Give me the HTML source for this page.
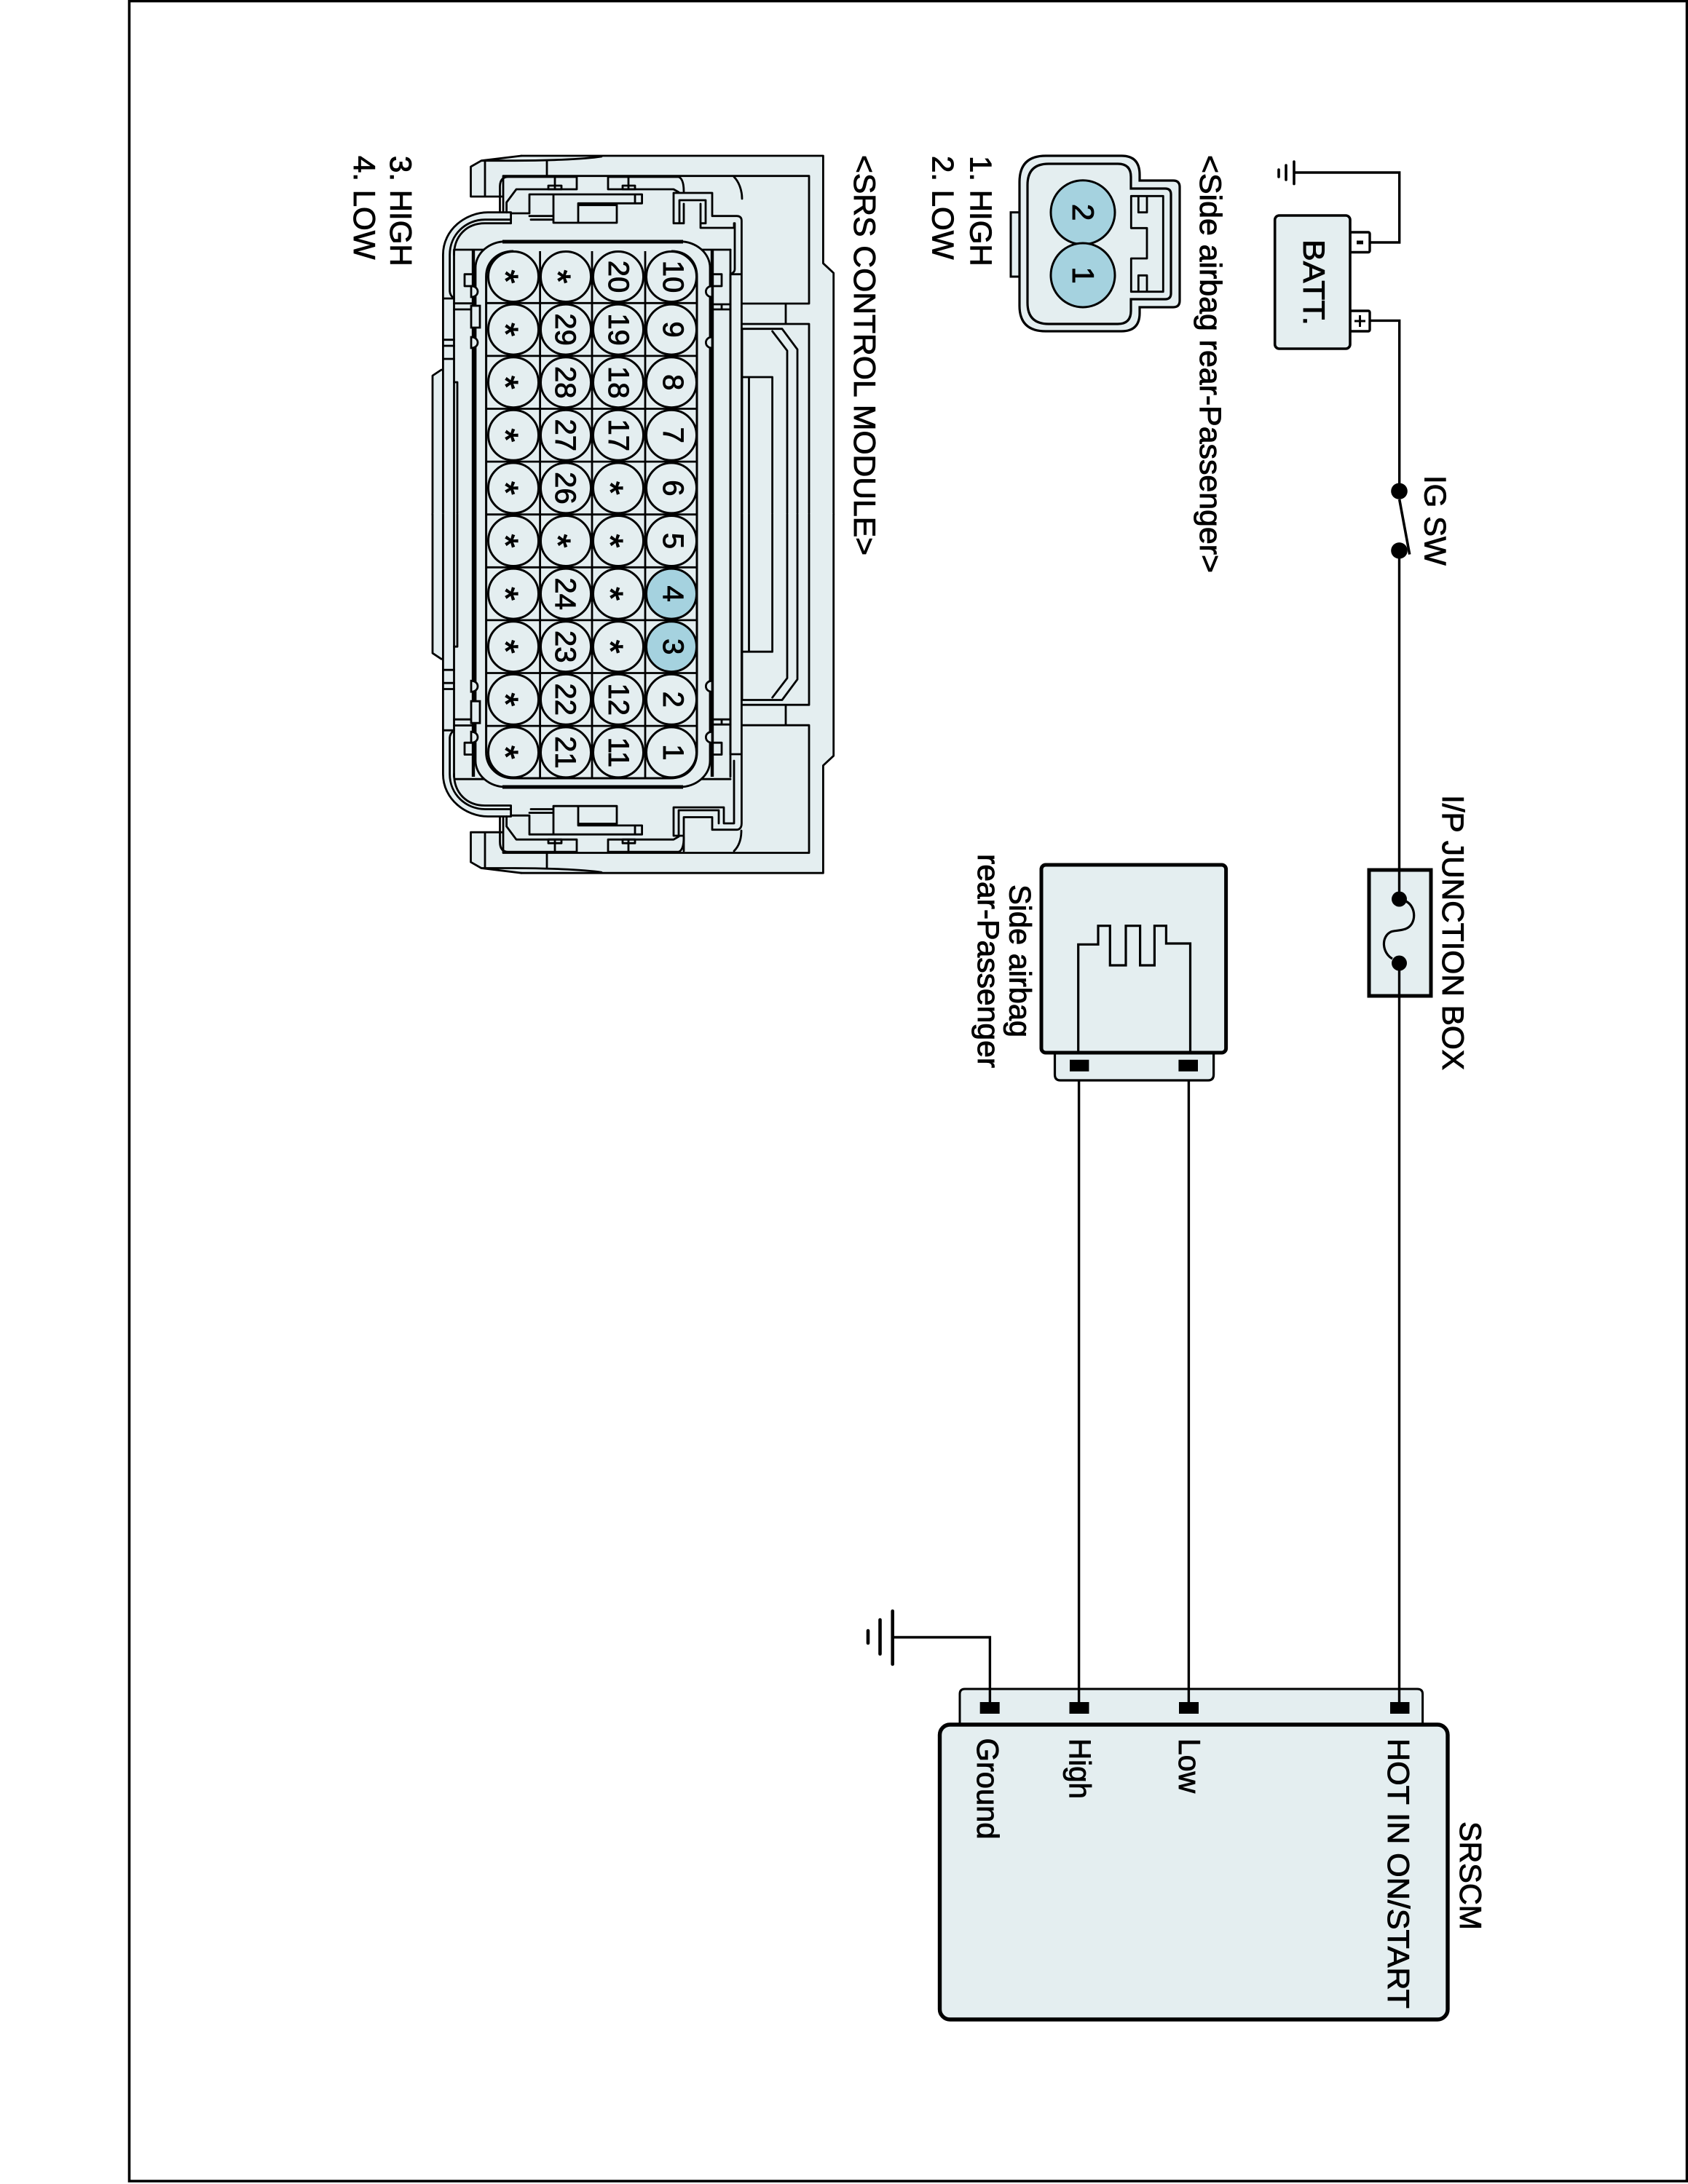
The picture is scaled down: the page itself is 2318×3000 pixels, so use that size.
<!DOCTYPE html>
<html><head><meta charset="utf-8"><title>SRS wiring diagram</title>
<style>
html,body{margin:0;padding:0;background:#fff}
svg{display:block}
text{font-family:"Liberation Sans",Arial,sans-serif;fill:#000;font-size:42px;stroke:#000;stroke-width:.9}
.l{fill:none;stroke:#000;stroke-width:2.8;stroke-linejoin:round;stroke-linecap:round}
.w{fill:none;stroke:#000;stroke-width:3.4}
.t{fill:none;stroke:#000;stroke-width:4.2}
.b{fill:#e4eef0;stroke:#000}
.p{fill:#e4eef0;stroke:#000;stroke-width:3}
.h{fill:#a5d2df;stroke:#000;stroke-width:3}
.n{font-size:40px;text-anchor:middle}
.s{font-size:48px;text-anchor:middle;stroke:#000;stroke-width:1.2}
</style></head><body>
<svg xmlns="http://www.w3.org/2000/svg" width="2318" height="3000" viewBox="0 0 2318 3000">
<rect width="2318" height="3000" fill="#fff"/>
<path d="M177.5 1.5H2316.5V2996H177.5Z" fill="none" stroke="#000" stroke-width="3.6"/>

<!-- battery -->
<path class="w" d="M1881 333H1921.7V237H1778"/>
<path d="M1777 222V252.6M1766 227V247M1756 233V243" fill="none" stroke="#000" stroke-width="3.6" stroke-linecap="round"/>
<rect x="1854" y="319" width="27" height="27.5" rx="2" fill="#fff" stroke="#000" stroke-width="3.4"/>
<rect x="1854" y="427" width="27" height="28" rx="2" fill="#fff" stroke="#000" stroke-width="3.4"/>
<path d="M1863 333H1872" stroke="#000" stroke-width="5" fill="none"/>
<path d="M1860 441H1875M1867.5 433V449" stroke="#000" stroke-width="3" fill="none"/>
<rect class="b" x="1750.7" y="296" width="103.3" height="183" rx="6" stroke-width="3.6"/>
<text transform="translate(1790,329) rotate(90)" textLength="118" lengthAdjust="spacingAndGlyphs">BATT.</text>

<!-- main wire and ig switch -->
<path class="w" d="M1881 440.4H1921.7V666"/>
<ellipse cx="1921.5" cy="674.7" rx="11.3" ry="11.2"/>
<ellipse cx="1921.5" cy="756.3" rx="11.3" ry="11.2"/>
<path d="M1921.7 686L1935.7 761.6" stroke="#000" stroke-width="3.6" fill="none"/>
<text transform="translate(1956.7,653) rotate(90)">IG SW</text>
<path class="w" d="M1921.5 757V1195M1921.5 1368V2340"/>

<!-- fuse box -->
<rect class="b" x="1880" y="1195" width="85" height="173" stroke-width="5"/>
<path class="w" d="M1921.5 1195V1235M1921.5 1323V1368"/>
<ellipse cx="1921.5" cy="1235" rx="10.5" ry="10.5"/>
<ellipse cx="1921.5" cy="1323" rx="10.5" ry="10.5"/>
<path d="M1930.6 1238C1945 1245 1946 1270 1930 1276C1921 1279 1915 1278 1910 1280C1896 1287 1898 1309 1912 1317" fill="none" stroke="#000" stroke-width="3.2"/>
<text transform="translate(1981,1092) rotate(90)" textLength="378" lengthAdjust="spacingAndGlyphs">I/P JUNCTION BOX</text>

<!-- side airbag block -->
<path class="w" d="M1481.6 1471V2340M1632.4 1471V2340"/>
<path d="M1448.5 1446V1476Q1448.5 1484 1456 1484H1659Q1666.6 1484 1666.6 1476V1446Z" fill="#e4eef0" stroke="#000" stroke-width="3.2"/>
<rect x="1469" y="1455.7" width="26.4" height="16"/>
<rect x="1618.4" y="1455.7" width="26.6" height="16"/>
<rect class="b" x="1430" y="1188" width="253.6" height="258" rx="6" stroke-width="5"/>
<path d="M1480.7 1444V1297.3H1508V1271.7H1524.3V1326H1546V1271.7H1565.6V1326H1585.4V1271.7H1601.4V1296H1634.5V1444" fill="none" stroke="#000" stroke-width="3.2"/>
<text transform="translate(1386.6,1215) rotate(90)" textLength="210" lengthAdjust="spacingAndGlyphs">Side airbag</text>
<text transform="translate(1343,1173) rotate(90)" textLength="294" lengthAdjust="spacingAndGlyphs">rear-Passenger</text>

<!-- SRSCM block -->
<path class="w" d="M1359.4 2340V2249H1227.4"/>
<path d="M1225.7 2213V2286M1208.5 2225V2272M1192 2240V2257" fill="none" stroke="#000" stroke-width="4.6" stroke-linecap="round"/>
<path d="M1318 2369V2327Q1318 2320 1325 2320H1946Q1953.6 2320 1953.6 2327V2369Z" fill="#e4eef0" stroke="#000" stroke-width="3"/>
<path class="w" d="M1359.4 2320V2340M1481.6 2320V2340M1632.4 2320V2340M1921.5 2320V2340"/>
<rect x="1345.7" y="2338" width="27" height="16"/>
<rect x="1468.5" y="2338" width="27" height="16"/>
<rect x="1619" y="2338" width="27" height="16"/>
<rect x="1909" y="2338" width="26.5" height="16"/>
<rect class="b" x="1290.5" y="2369" width="697.5" height="405" rx="14" stroke-width="5.4"/>
<text transform="translate(1342,2387.5) rotate(90)" textLength="139" lengthAdjust="spacingAndGlyphs">Ground</text>
<text transform="translate(1468.5,2388) rotate(90)" textLength="83" lengthAdjust="spacingAndGlyphs">High</text>
<text transform="translate(1619,2388) rotate(90)" textLength="75" lengthAdjust="spacingAndGlyphs">Low</text>
<text transform="translate(1906,2388) rotate(90)" textLength="371" lengthAdjust="spacingAndGlyphs">HOT IN ON/START</text>
<text transform="translate(2005,2502) rotate(90)" textLength="149" lengthAdjust="spacingAndGlyphs">SRSCM</text>

<!-- side airbag connector view -->
<text transform="translate(1648,213) rotate(90)" textLength="574" lengthAdjust="spacingAndGlyphs">&lt;Side airbag rear-Passenger&gt;</text>
<rect x="1388" y="291.7" width="12" height="88.3" fill="#e4eef0" stroke="#000" stroke-width="3"/>
<path class="b" stroke-width="3.2" d="M1436 214H1540Q1565 214 1565 240V248H1611Q1620 248 1620 257V413Q1620 422 1611 422H1565V430Q1565 455 1540 455H1436Q1400 455 1400 420V250Q1400 214 1436 214Z"/>
<path class="b" stroke-width="3.2" d="M1440 225H1535Q1553 225 1553 243V259H1600Q1608 259 1608 267V403Q1608 411 1600 411H1553V427Q1553 445 1535 445H1440Q1411 445 1411 416V254Q1411 225 1440 225Z"/>
<path class="l" stroke-width="3" d="M1553.3 269.3H1597.3V400.7H1553.3V355H1575V313.3H1553.3V269.3M1575 269.3V291.7H1563.3V269.3M1575 400.7V378.3H1563.3V400.7"/>
<circle class="h" cx="1487" cy="291.7" r="44"/>
<circle class="h" cx="1487" cy="378" r="44"/>
<text transform="translate(1473,291.7) rotate(90)" text-anchor="middle">2</text>
<text transform="translate(1473,378) rotate(90)" text-anchor="middle">1</text>
<text transform="translate(1332.7,214) rotate(90)">1. HIGH</text>
<text transform="translate(1280.7,214) rotate(90)">2. LOW</text>

<!-- SRS control module connector view -->
<text transform="translate(1173,213) rotate(90)" textLength="550" lengthAdjust="spacingAndGlyphs">&lt;SRS CONTROL MODULE&gt;</text>
<text transform="translate(536,214) rotate(90)">3. HIGH</text>
<text transform="translate(486,214) rotate(90)">4. LOW</text>

<g id="half">
<path fill="#e4eef0" d="M716 214H1130.4V361.7L1144.7 375V708H594V516L608.4 508V350C608.4 315 640 291.7 670 291.7H691V270H646.5V229L661 220.7Z"/>
<path class="l" d="M594 707V516L606 508H608.4M608.4 707V350C608.4 315 640 291.7 670 291.7H701.6V306.7H666C640 306.7 623.5 325 623.5 350M617.6 400V350C617.6 322 640 301.7 666 301.7H701.6M617.6 400Q618 406 623.5 410H608.4M608.4 466.7H623.5M608.4 475H623.5M608.4 493H623.5M623.5 525H628V707"/>
<path class="l" stroke-width="3.2" d="M716 214H1130.4V361.7L1144.7 375V707"/>
<path class="l" d="M691 290V270H646.5V229L661 220.7L716 214M666 222V270M661 220.7H707C745 220.7 800 219 826 215M691 270V241.7H1111V417H1019M1079 417V445M1019 445H1111V707"/>
<path class="l" d="M751 221V241.7M686.5 291V256.7Q686.5 243 698 243H792V260H709L695.6 278V291.7M835 243V260H925L932 264M835 243H932Q939 246 939 263"/>
<path class="l" d="M762 243V260M753 255H771V260H753ZM863 243V260M855 255H872V260H855Z"/>
<path class="l" d="M727 293V267H881.6V279.3H794V306H760V267M794 281.7H847V306H794M872 267V279.3M727 296.7H760M729 301.7H760M701.6 293H727M760 279V306"/>
<path class="l" d="M1019 451.7H1074L1095 480V707M1060.6 455L1081 481.7V707M1019 451.7V707M1028.5 518V707M1019 518H1060.6V707"/>
<path class="l" d="M638 376.7V393H650M638 376.7H650M980 376.7H991V393H980M623.5 416.7H650M623.5 425H650M978 418H1003M978 425H1003M991 418V425"/>
<path class="l" d="M624.5 343H1003"/>
</g>
<use href="#half" transform="translate(0,1413.2) scale(1,-1)"/>

<!-- latches (top / bottom differ) -->
<path class="l" d="M1019 273C1019 262 1015 250 1008 243M925 306.7V265H978V296.7H1012Q1018.4 297 1018.4 303V707M933 306.7V275H969V306.7M939 280V306.7M962 280V313H1008V306.7M925 306.7H939M962 306.7H969M1009 306.7V370Q1009 374 1003 376.7M1003 376.7H1018.4M1003 376.7V1036"/>
<path class="l" d="M1008 1169C1015 1162 1018 1152 1018 1141M925 1148V1109H994V1131H1008V1045M932 1146.6V1113H987V1131M939 1169V1122.5H978V1139.7H1012Q1018.4 1139 1018.4 1131V707M1003 1036H1018.4M925 1148H939"/>

<!-- rails -->
<path fill="none" stroke="#000" stroke-width="4.4" d="M650 343V1067M978 343V1067"/>
<path class="l" d="M623.5 343V1067M1003 343V1067"/>

<!-- inner housing and pin field -->
<rect x="653" y="331.7" width="322" height="749.3" rx="42" ry="36" fill="#e4eef0" stroke="#000" stroke-width="2.8"/>
<path fill="none" stroke="#000" stroke-width="5" d="M690 332H938M690 1081H938"/>
<g id="bumps">
<path fill="#e4eef0" stroke="#000" stroke-width="2.8" d="M647 393C659 393 659 408 647 408ZM978 393C966.5 393 966.5 408 978 408ZM647 420H659V450H647ZM647 463C659 463 659 478 647 478ZM978 463C966.5 463 966.5 478 978 478Z"/>
</g>
<use href="#bumps" transform="translate(0,1413.2) scale(1,-1)"/>
<path fill="none" stroke="#000" stroke-width="3" d="M667.6 380V1033C667.6 1055 685 1069 705 1069H920C942 1069 957 1055 957 1033V380C957 358 942 345 922 345M667.6 380C667.6 358 685 345 705 345"/>
<path fill="none" stroke="#000" stroke-width="2.8" d="M741.6 345V1069M813 345V1069M886 345V1069M667.6 416.3H957M667.6 488.9H957M667.6 561.5H957M667.6 634.1H957M667.6 706.7H957M667.6 779.3H957M667.6 851.9H957M667.6 924.5H957M667.6 997.1H957"/>

<circle class="p" cx="922" cy="380" r="34.5"/><circle class="p" cx="922" cy="452.6" r="34.5"/><circle class="p" cx="922" cy="525.2" r="34.5"/><circle class="p" cx="922" cy="597.8" r="34.5"/><circle class="p" cx="922" cy="670.4" r="34.5"/><circle class="p" cx="922" cy="743" r="34.5"/><circle class="h" cx="922" cy="815.6" r="34.5"/><circle class="h" cx="922" cy="888.2" r="34.5"/><circle class="p" cx="922" cy="960.8" r="34.5"/><circle class="p" cx="922" cy="1033.4" r="34.5"/>
<circle class="p" cx="849" cy="380" r="34.5"/><circle class="p" cx="849" cy="452.6" r="34.5"/><circle class="p" cx="849" cy="525.2" r="34.5"/><circle class="p" cx="849" cy="597.8" r="34.5"/><circle class="p" cx="849" cy="670.4" r="34.5"/><circle class="p" cx="849" cy="743" r="34.5"/><circle class="p" cx="849" cy="815.6" r="34.5"/><circle class="p" cx="849" cy="888.2" r="34.5"/><circle class="p" cx="849" cy="960.8" r="34.5"/><circle class="p" cx="849" cy="1033.4" r="34.5"/>
<circle class="p" cx="777" cy="380" r="34.5"/><circle class="p" cx="777" cy="452.6" r="34.5"/><circle class="p" cx="777" cy="525.2" r="34.5"/><circle class="p" cx="777" cy="597.8" r="34.5"/><circle class="p" cx="777" cy="670.4" r="34.5"/><circle class="p" cx="777" cy="743" r="34.5"/><circle class="p" cx="777" cy="815.6" r="34.5"/><circle class="p" cx="777" cy="888.2" r="34.5"/><circle class="p" cx="777" cy="960.8" r="34.5"/><circle class="p" cx="777" cy="1033.4" r="34.5"/>
<circle class="p" cx="705" cy="380" r="34.5"/><circle class="p" cx="705" cy="452.6" r="34.5"/><circle class="p" cx="705" cy="525.2" r="34.5"/><circle class="p" cx="705" cy="597.8" r="34.5"/><circle class="p" cx="705" cy="670.4" r="34.5"/><circle class="p" cx="705" cy="743" r="34.5"/><circle class="p" cx="705" cy="815.6" r="34.5"/><circle class="p" cx="705" cy="888.2" r="34.5"/><circle class="p" cx="705" cy="960.8" r="34.5"/><circle class="p" cx="705" cy="1033.4" r="34.5"/>

<text class="n" transform="translate(911,380) rotate(90)">10</text>
<text class="n" transform="translate(911,452.6) rotate(90)">9</text>
<text class="n" transform="translate(911,525.2) rotate(90)">8</text>
<text class="n" transform="translate(911,597.8) rotate(90)">7</text>
<text class="n" transform="translate(911,670.4) rotate(90)">6</text>
<text class="n" transform="translate(911,743) rotate(90)">5</text>
<text class="n" transform="translate(911,815.6) rotate(90)">4</text>
<text class="n" transform="translate(911,888.2) rotate(90)">3</text>
<text class="n" transform="translate(911,960.8) rotate(90)">2</text>
<text class="n" transform="translate(911,1033.4) rotate(90)">1</text>

<text class="n" transform="translate(836,380) rotate(90)">20</text>
<text class="n" transform="translate(836,452.6) rotate(90)">19</text>
<text class="n" transform="translate(836,525.2) rotate(90)">18</text>
<text class="n" transform="translate(836,597.8) rotate(90)">17</text>
<text class="s" transform="translate(822,670.4) rotate(90)">*</text>
<text class="s" transform="translate(822,743) rotate(90)">*</text>
<text class="s" transform="translate(822,815.6) rotate(90)">*</text>
<text class="s" transform="translate(822,888.2) rotate(90)">*</text>
<text class="n" transform="translate(836,960.8) rotate(90)">12</text>
<text class="n" transform="translate(836,1033.4) rotate(90)">11</text>

<text class="s" transform="translate(750,380) rotate(90)">*</text>
<text class="n" transform="translate(763,452.6) rotate(90)">29</text>
<text class="n" transform="translate(763,525.2) rotate(90)">28</text>
<text class="n" transform="translate(763,597.8) rotate(90)">27</text>
<text class="n" transform="translate(763,670.4) rotate(90)">26</text>
<text class="s" transform="translate(750,743) rotate(90)">*</text>
<text class="n" transform="translate(763,815.6) rotate(90)">24</text>
<text class="n" transform="translate(763,888.2) rotate(90)">23</text>
<text class="n" transform="translate(763,960.8) rotate(90)">22</text>
<text class="n" transform="translate(763,1033.4) rotate(90)">21</text>

<text class="s" transform="translate(678,380) rotate(90)">*</text>
<text class="s" transform="translate(678,452.6) rotate(90)">*</text>
<text class="s" transform="translate(678,525.2) rotate(90)">*</text>
<text class="s" transform="translate(678,597.8) rotate(90)">*</text>
<text class="s" transform="translate(678,670.4) rotate(90)">*</text>
<text class="s" transform="translate(678,743) rotate(90)">*</text>
<text class="s" transform="translate(678,815.6) rotate(90)">*</text>
<text class="s" transform="translate(678,888.2) rotate(90)">*</text>
<text class="s" transform="translate(678,960.8) rotate(90)">*</text>
<text class="s" transform="translate(678,1033.4) rotate(90)">*</text>
</svg>
</body></html>
